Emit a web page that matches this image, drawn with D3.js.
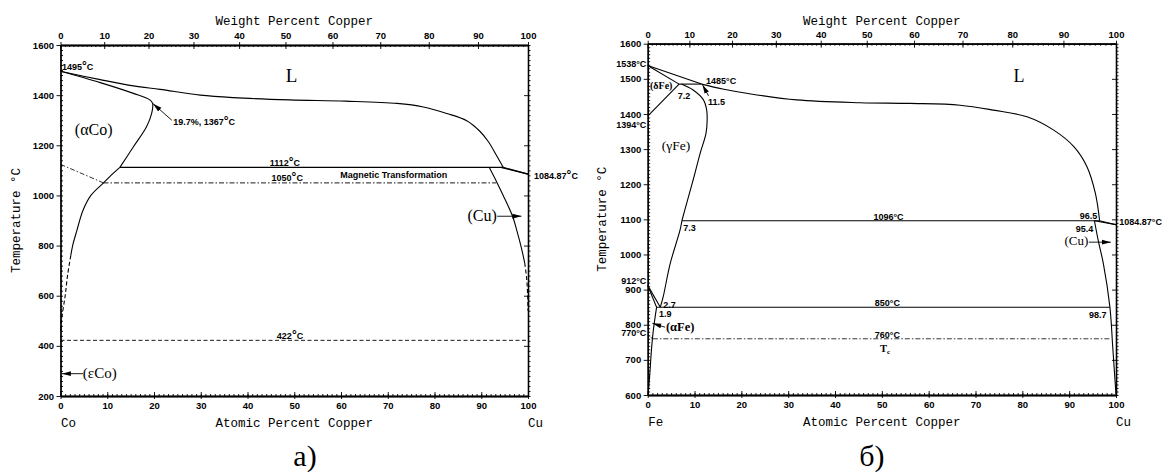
<!DOCTYPE html>
<html>
<head>
<meta charset="utf-8">
<script src="https://cdn.jsdelivr.net/npm/d3@7"></script>
<style>
  body { margin: 0; background: #fff; }
  svg { display: block; }
  .axis path, .axis line { stroke: #000; }
  .axis path { stroke-width: 1.3px; }
  .axis line { stroke-width: 0.9px; }
  .axis text { font-family: "Liberation Sans", Arial, sans-serif; font-weight: bold; font-size: 9.5px; fill: #000; }
  .ann { font-family: "Liberation Sans", Arial, sans-serif; font-weight: bold; font-size: 9px; fill: #000; }
  .phase { font-family: "Liberation Serif", "Times New Roman", serif; fill: #000; }
  .mono { font-family: "Liberation Mono", "Courier New", monospace; font-size: 12.5px; fill: #000; }
  .caption { font-family: "Liberation Serif", "Times New Roman", serif; font-size: 30px; fill: #000; }
</style>
</head>
<body>
<svg id="chart" width="1162" height="474"></svg>
<script>
// ---------- axis ticks ----------
const atomicTicks = [0, 10, 20, 30, 40, 50, 60, 70, 80, 90, 100];
const weightTicks = [0, 10, 20, 30, 40, 50, 60, 70, 80, 90, 100];
const tempTicksCo = [200, 400, 600, 800, 1000, 1200, 1400, 1600];
const tempTicksFe = [600, 700, 800, 900, 1000, 1100, 1200, 1300, 1400, 1500, 1600];

const ATOMIC_MASS = { Co: 58.933, Fe: 55.845, Cu: 63.546 };

// ---------- Co–Cu phase boundaries  [at.% Cu, °C] ----------
const coLiquidus = [[0, 1495], [8.5, 1462], [15.6, 1437], [21.3, 1423], [29.9, 1400], [37, 1390],
  [49, 1381], [61, 1376], [72, 1367], [77.6, 1353], [82.6, 1327], [86.9, 1298], [89.7, 1256],
  [91.5, 1215], [93.3, 1158], [94.7, 1112]];
const coLiquidusTail = [[94.7, 1112], [100, 1084.87]];
const coAlphaSolidus = [[0, 1495], [8.5, 1450], [15.6, 1407], [19.1, 1381], [19.7, 1367],
  [19.5, 1327], [18.4, 1274], [15.6, 1194], [12.7, 1112]];
const coAlphaSolvus = [[12.7, 1112], [10.8, 1080], [9.2, 1050], [6.5, 1000], [4.8, 940],
  [3.5, 860], [2.6, 800], [2.2, 760]];
const coAlphaSolvusEst = [[2.2, 760], [1.5, 680], [1.0, 600], [0.5, 540], [0.2, 500], [0, 450]];
const coPeritectic = [[12.7, 1112], [94.7, 1112]];
const coCuSolidus = [[94.2, 1112], [100, 1084.87]];
const coCuSolvus = [[91.7, 1112], [93.4, 1050], [94.7, 1000], [96.7, 917], [97.6, 861],
  [98.6, 790], [99.3, 730]];
const coCuSolvusEst = [[99.3, 730], [99.7, 670], [99.93, 600], [100, 540]];
const coCurieSlope = [[0, 1124], [9.2, 1050]];
const coCurie = [[9.2, 1050], [93.2, 1050]];
const coAllotropic = [[0, 422], [100, 422]];

// ---------- Fe–Cu phase boundaries  [at.% Cu, °C] ----------
const feLiquidus = [[11.5, 1485], [16, 1471], [21.1, 1459], [31.8, 1440], [45.4, 1432],
  [56, 1430], [66.7, 1425], [73.8, 1411], [81, 1392], [86.7, 1354], [91, 1307],
  [93.8, 1250], [95.6, 1174], [96.5, 1096]];
const feLiquidusDelta = [[0, 1538], [11.5, 1485]];
const feDeltaSolidus = [[0, 1538], [6.7, 1485]];
const feDeltaGamma = [[0, 1394], [6.7, 1485]];
const fePeritectic = [[6.7, 1485], [11.5, 1485]];
const feGammaUpper = [[7.2, 1485], [9.7, 1468], [11.9, 1440], [12.6, 1411], [12.7, 1383],
  [12.45, 1345], [11.2, 1288], [9.7, 1212], [8.3, 1145], [7.3, 1096]];
const feGammaLower = [[7.3, 1096], [6.9, 1069], [4.8, 974], [3.3, 879], [2.7, 850]];
const feMonotectic = [[7.3, 1096], [96.5, 1096]];
const feLiquidusTail = [[96.5, 1096], [100, 1084.87]];
const feCuSolidus = [[95.4, 1096], [100, 1084.87]];
const feCuSolvus = [[95.4, 1096], [96.2, 1040], [97.3, 974], [98.7, 850], [99.3, 737],
  [99.8, 640], [100, 600]];
const feGammaAlpha1 = [[0, 912], [2.7, 850]];
const feGammaAlpha2 = [[0, 912], [1.9, 850]];
const feEutectoid = [[1.9, 850], [98.7, 850]];
const feAlphaSolvus = [[1.9, 850], [1.2, 784], [0.85, 737], [0.5, 670], [0.1, 600]];
const feCurieSlope = [[0, 770], [1.1, 760]];
const feCurie = [[1.1, 760], [98.9, 760]];

// ---------- drawing ----------
function wtToAt(w, solvent) {
  if (w <= 0) return 0;
  if (w >= 100) return 100;
  const nCu = w / ATOMIC_MASS.Cu, nS = (100 - w) / ATOMIC_MASS[solvent];
  return 100 * nCu / (nCu + nS);
}

const svg = d3.select("#chart");

const defs = svg.append("defs");
defs.append("marker")
  .attr("id", "arrowHead")
  .attr("markerUnits", "userSpaceOnUse")
  .attr("markerWidth", 9).attr("markerHeight", 6)
  .attr("refX", 9).attr("refY", 3)
  .attr("orient", "auto")
  .append("path").attr("d", "M0,0.6 L9,3 L0,5.4 Z").attr("fill", "#000");

const panels = [
  {
    solvent: "Co", element: "Co", px: [60.5, 528], py: [45, 396], tDomain: [200, 1600],
    tMajor: tempTicksCo, tMinorStep: 20, caption: "a)", captionX: 305, ylabelX: 19.5,
    degSize: 12,
    curves: [
      { d: coLiquidus, smooth: true }, { d: coLiquidusTail },
      { d: coAlphaSolidus, smooth: true }, { d: coAlphaSolvus, smooth: true },
      { d: coAlphaSolvusEst, smooth: true, dash: "4,2.5" },
      { d: coPeritectic }, { d: coCuSolidus },
      { d: coCuSolvus, smooth: true }, { d: coCuSolvusEst, smooth: true, dash: "4,2.5" },
      { d: coCurieSlope, dash: "5,2,1.5,2", width: 0.8 }, { d: coCurie, dash: "5,2,1.5,2", width: 0.9 },
      { d: coAllotropic, dash: "4,2.5", width: 0.9 }
    ],
    labels: [
      { text: "1495°C", x: 0.3, t: 1500, anchor: "start" },
      { text: "L", x: 49.4, t: 1454, anchor: "middle", serif: 19 },
      { text: "19.7%, 1367°C", x: 24.1, t: 1281, anchor: "start" },
      { text: "(αCo)", x: 7.1, t: 1241, anchor: "middle", serif: 16 },
      { text: "1112°C", x: 48.0, t: 1119, anchor: "middle" },
      { text: "1050°C", x: 48.5, t: 1057, anchor: "middle" },
      { text: "Magnetic Transformation", x: 71.3, t: 1069, anchor: "middle" },
      { text: "1084.87°C", x: 101.3, t: 1065, anchor: "start" },
      { text: "(Cu)", x: 90.2, t: 900, anchor: "middle", serif: 16 },
      { text: "422°C", x: 49.1, t: 428, anchor: "middle" },
      { text: "(εCo)", x: 8.4, t: 273, anchor: "middle", serif: 15 }
    ],
    arrows: [
      { from: [23.8, 1300], to: [19.8, 1366] },
      { from: [93.4, 917], to: [98.6, 917] },
      { from: [4.8, 289], to: [0.3, 289] }
    ]
  },
  {
    solvent: "Fe", element: "Fe", px: [647.7, 1116], py: [43.7, 395], tDomain: [600, 1600],
    tMajor: tempTicksFe, tMinorStep: 10, caption: "б)", captionX: 872, ylabelX: 606,
    degSize: null,
    curves: [
      { d: feLiquidusDelta }, { d: feLiquidus, smooth: true }, { d: feLiquidusTail },
      { d: feDeltaSolidus }, { d: feDeltaGamma }, { d: fePeritectic },
      { d: feGammaUpper, smooth: true }, { d: feGammaLower, smooth: true },
      { d: feMonotectic }, { d: feCuSolidus }, { d: feCuSolvus, smooth: true },
      { d: feGammaAlpha1 }, { d: feGammaAlpha2 }, { d: feEutectoid },
      { d: feAlphaSolvus, smooth: true },
      { d: feCurieSlope, dash: "2,1.5", width: 0.8 }, { d: feCurie, dash: "5,2,1.5,2", width: 0.8 }
    ],
    labels: [
      { text: "1538°C", x: -0.3, t: 1535, anchor: "end" },
      { text: "(δFe)", x: 0.5, t: 1471, anchor: "start", serif: 10, bold: true },
      { text: "7.2", x: 6.4, t: 1444, anchor: "start" },
      { text: "1485°C", x: 12.45, t: 1485, anchor: "start" },
      { text: "11.5", x: 12.9, t: 1425, anchor: "start" },
      { text: "1394°C", x: -0.3, t: 1361, anchor: "end" },
      { text: "(γFe)", x: 3.0, t: 1297, anchor: "start", serif: 13.5 },
      { text: "L", x: 79.3, t: 1492, anchor: "middle", serif: 18 },
      { text: "7.3", x: 7.6, t: 1066, anchor: "start" },
      { text: "1096°C", x: 48.2, t: 1099, anchor: "start" },
      { text: "96.5", x: 96.0, t: 1102, anchor: "end" },
      { text: "95.4", x: 95.15, t: 1065, anchor: "end" },
      { text: "1084.87°C", x: 100.7, t: 1084, anchor: "start" },
      { text: "(Cu)", x: 94.1, t: 1027, anchor: "end", serif: 13 },
      { text: "912°C", x: -0.3, t: 915, anchor: "end" },
      { text: "2.7", x: 3.3, t: 848, anchor: "start" },
      { text: "1.9", x: 2.4, t: 822, anchor: "start" },
      { text: "850°C", x: 48.5, t: 853, anchor: "start" },
      { text: "98.7", x: 98.0, t: 820, anchor: "end" },
      { text: "(αFe)", x: 3.9, t: 782, anchor: "start", serif: 12.5, bold: true },
      { text: "770°C", x: -0.3, t: 767, anchor: "end" },
      { text: "760°C", x: 48.5, t: 763, anchor: "start" },
      { text: "T", sub: "c", x: 49.6, t: 723, anchor: "start", serif: 10.5, bold: true }
    ],
    arrows: [
      { from: [13.0, 1451], to: [11.7, 1483] },
      { from: [3.7, 793], to: [1.0, 804] },
      { from: [94.2, 1035], to: [98.9, 1035] }
    ]
  }
];

panels.forEach(p => {
  const x = d3.scaleLinear().domain([0, 100]).range(p.px);
  const y = d3.scaleLinear().domain(p.tDomain).range([p.py[1], p.py[0]]);
  const g = svg.append("g");

  const wtPos = weightTicks.map(w => wtToAt(w, p.solvent));
  const wtMinor = d3.range(0, 101, 1).map(w => wtToAt(w, p.solvent));
  const atMinor = d3.range(0, 101, 1);
  const tMinor = d3.range(p.tDomain[0], p.tDomain[1] + 0.1, p.tMinorStep);

  const addAxis = (axis, tr) => g.append("g").attr("class", "axis")
    .attr("transform", tr).call(axis.tickSizeOuter(0));

  // bottom: atomic percent
  const bt = `translate(0,${p.py[1]})`;
  addAxis(d3.axisBottom(x).tickValues(atMinor).tickSize(-2).tickFormat(""), bt);
  addAxis(d3.axisBottom(x).tickValues(atomicTicks).tickSize(-4).tickFormat(""), bt);
  addAxis(d3.axisBottom(x).tickValues(atomicTicks).tickSize(3).tickPadding(3).tickFormat(d3.format("d")), bt);

  // top: weight percent
  const tt = `translate(0,${p.py[0]})`;
  addAxis(d3.axisTop(x).tickValues(wtMinor).tickSize(-2).tickFormat(""), tt);
  addAxis(d3.axisTop(x).tickValues(wtPos).tickSize(-4).tickFormat(""), tt);
  addAxis(d3.axisTop(x).tickValues(wtPos).tickSize(3).tickPadding(3).tickFormat((d, i) => weightTicks[i]), tt);

  // left: temperature
  const lt = `translate(${p.px[0]},0)`;
  addAxis(d3.axisLeft(y).tickValues(tMinor).tickSize(-2.5).tickFormat(""), lt);
  addAxis(d3.axisLeft(y).tickValues(p.tMajor).tickSize(4).tickPadding(2.5).tickFormat(d3.format("d")), lt);

  // right: temperature, unlabeled
  const rt = `translate(${p.px[1]},0)`;
  addAxis(d3.axisRight(y).tickValues(tMinor).tickSize(2.5).tickFormat(""), rt);
  addAxis(d3.axisRight(y).tickValues(p.tMajor).tickSize(-4).tickFormat(""), rt);

  // phase boundaries
  const smooth = d3.line().x(d => x(d[0])).y(d => y(d[1])).curve(d3.curveCatmullRom.alpha(0.5));
  const straight = d3.line().x(d => x(d[0])).y(d => y(d[1]));
  p.curves.forEach(c => {
    g.append("path")
      .attr("d", (c.smooth ? smooth : straight)(c.d))
      .attr("fill", "none").attr("stroke", "#000")
      .attr("stroke-width", c.width || 1.1)
      .attr("stroke-dasharray", c.dash || null)
      .attr("stroke-linejoin", "round");
  });

  // pointer arrows
  p.arrows.forEach(a => {
    g.append("line")
      .attr("x1", x(a.from[0])).attr("y1", y(a.from[1]))
      .attr("x2", x(a.to[0])).attr("y2", y(a.to[1]))
      .attr("stroke", "#000").attr("stroke-width", 0.9)
      .attr("marker-end", "url(#arrowHead)");
  });

  // annotations
  p.labels.forEach(l => {
    const t = g.append("text")
      .attr("x", x(l.x)).attr("y", y(l.t))
      .attr("text-anchor", l.anchor);
    if (l.serif) {
      t.attr("class", "phase").style("font-size", l.serif + "px")
        .style("font-weight", l.bold ? "bold" : "normal");
    } else {
      t.attr("class", "ann");
    }
    const parts = l.text.split("°");
    parts.forEach((s, i) => {
      if (i > 0) {
        const deg = t.append("tspan").text("°");
        if (p.degSize && !l.serif) deg.style("font-size", p.degSize + "px");
      }
      t.append("tspan").text(s);
    });
    if (l.sub) {
      t.append("tspan").text(l.sub).attr("dy", 2.5).style("font-size", (l.serif * 0.65) + "px");
    }
  });

  // axis titles
  const midX = (p.px[0] + p.px[1]) / 2;
  svg.append("text").attr("class", "mono").attr("x", midX).attr("y", 25)
    .attr("text-anchor", "middle").text("Weight Percent Copper");
  svg.append("text").attr("class", "mono").attr("x", midX).attr("y", p.py[1] + 31)
    .attr("text-anchor", "middle").text("Atomic Percent Copper");
  svg.append("text").attr("class", "mono").attr("x", p.px[0] + 0.5).attr("y", p.py[1] + 31)
    .attr("text-anchor", "start").text(p.element);
  svg.append("text").attr("class", "mono").attr("x", p.px[1]).attr("y", p.py[1] + 31)
    .attr("text-anchor", "start").text("Cu");
  svg.append("text").attr("class", "mono")
    .attr("transform", `translate(${p.ylabelX},${(p.py[0] + p.py[1]) / 2})rotate(-90)`)
    .attr("text-anchor", "middle").text("Temperature °C");

  // panel caption
  svg.append("text").attr("class", "caption").attr("x", p.captionX).attr("y", 466)
    .attr("text-anchor", "middle").text(p.caption);
});
</script>
</body>
</html>
